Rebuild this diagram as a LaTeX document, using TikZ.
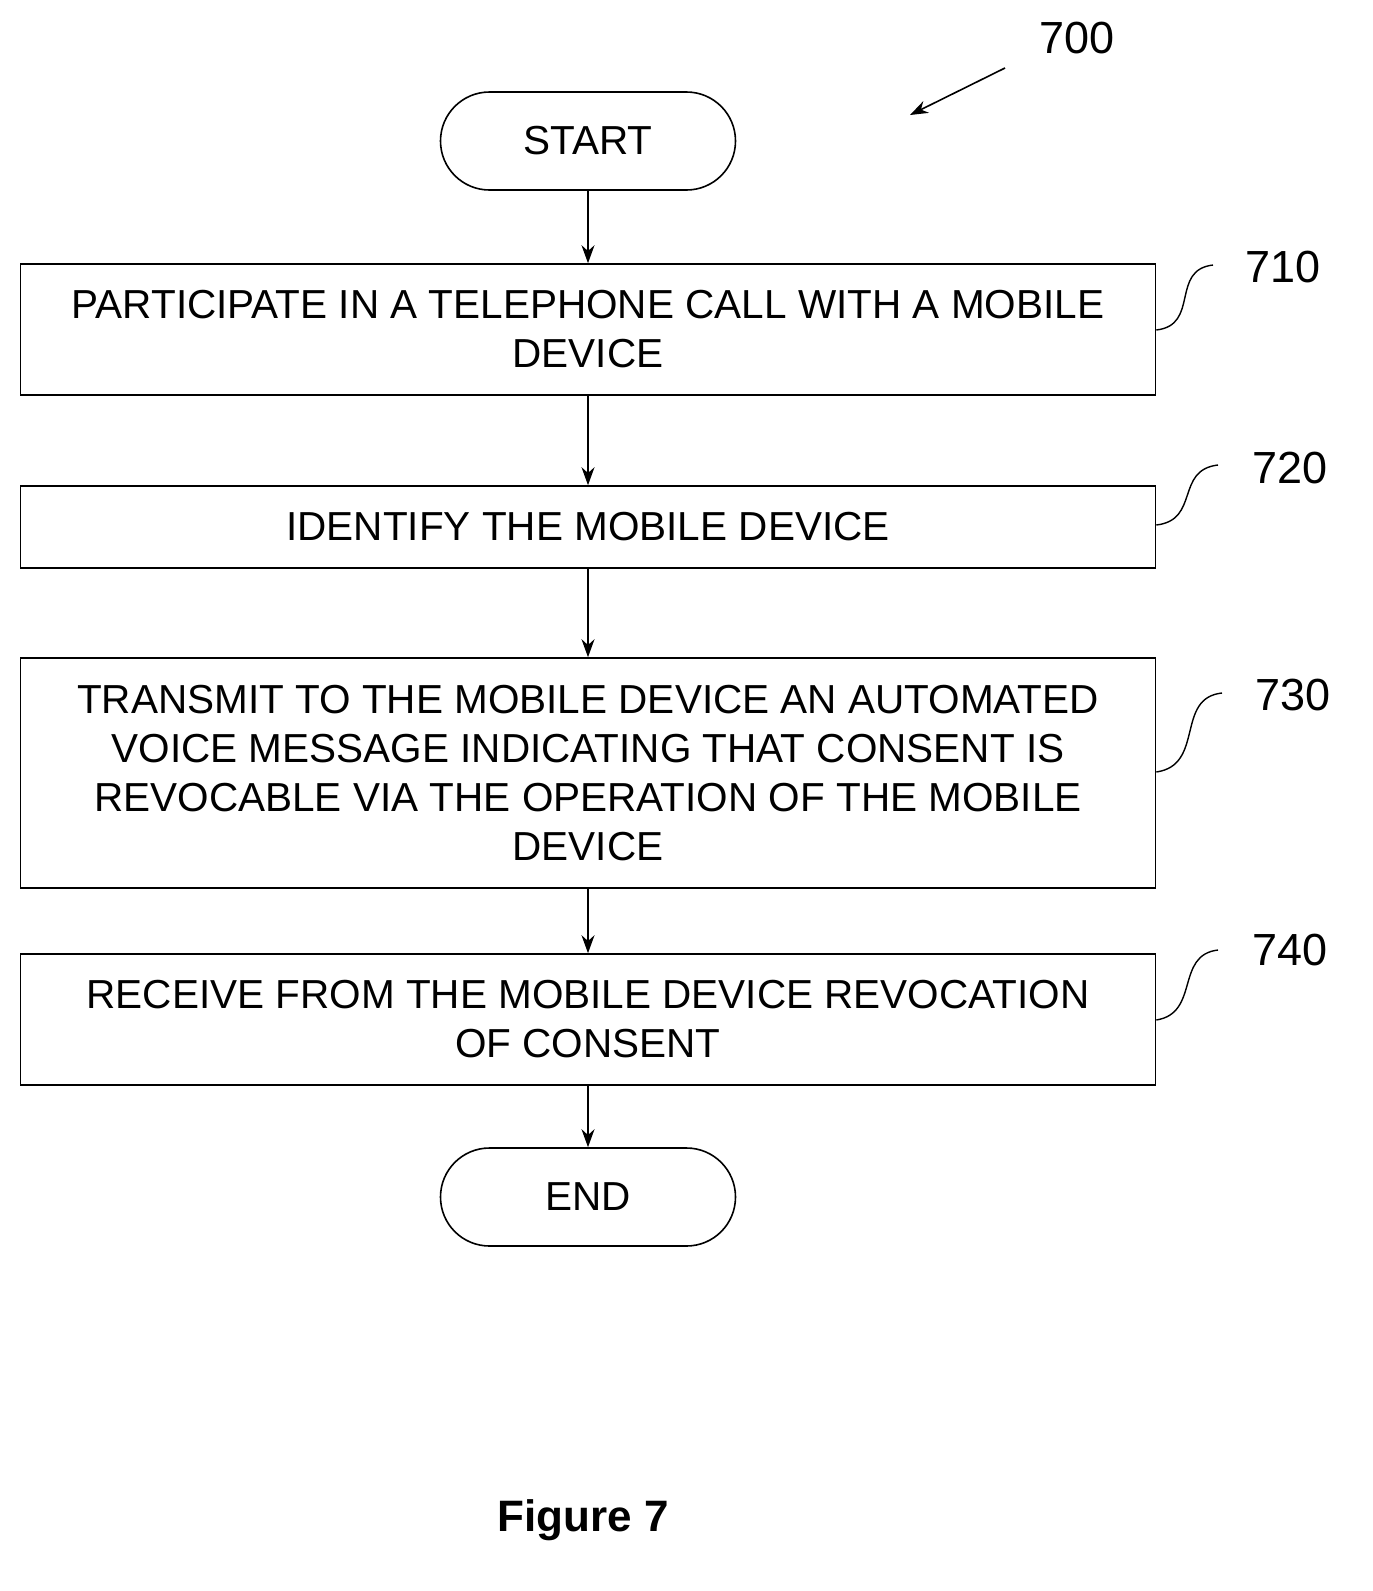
\documentclass[tikz,border=0pt]{standalone}
\usepackage{fontspec}
\setmainfont{Liberation Sans}
\usetikzlibrary{arrows.meta}
\begin{document}
\begin{tikzpicture}[x=1pt,y=-1pt,
  box/.style={draw,line width=1.6pt,minimum width=1135pt,align=center,font=\fontsize{40.5}{49}\selectfont,inner sep=0pt},
  term/.style={draw,line width=1.6pt,rounded corners=49pt,minimum width=295pt,minimum height=98pt,font=\fontsize{40.5}{49}\selectfont},
  arr/.style={-{Stealth[length=18pt,width=13pt]},line width=1.6pt},
  lbl/.style={font=\fontsize{45}{50}\selectfont},
  sq/.style={line width=1.4pt}]
\useasboundingbox (0,0) rectangle (1373,1591);
\node[term] (s) at (588,141) {START};
\node[box,minimum height=131pt] (b1) at (588,329.5) {PARTICIPATE IN A TELEPHONE CALL WITH A MOBILE\\DEVICE};
\node[box,minimum height=82pt] (b2) at (588,527) {IDENTIFY THE MOBILE DEVICE};
\node[box,minimum height=230pt] (b3) at (588,773) {TRANSMIT TO THE MOBILE DEVICE AN AUTOMATED\\VOICE MESSAGE INDICATING THAT CONSENT IS\\REVOCABLE VIA THE OPERATION OF THE MOBILE\\DEVICE};
\node[box,minimum height=131pt] (b4) at (588,1019.5) {RECEIVE FROM THE MOBILE DEVICE REVOCATION\\OF CONSENT};
\node[term] (e) at (588,1197) {END};
\draw[arr] (s) -- (b1);
\draw[arr] (b1) -- (b2);
\draw[arr] (b2) -- (b3);
\draw[arr] (b3) -- (b4);
\draw[arr] (b4) -- (e);
\node[lbl] (l0) at (1077,38) {700};
\coordinate (a0) at (1005,68);
\coordinate (a1) at (910,115);
\draw[arr] (a0) -- (a1);
\node[lbl] (l1) at (1283,267) {710};
\node[lbl] (l2) at (1290,468) {720};
\node[lbl] (l3) at (1293,695) {730};
\node[lbl] (l4) at (1290,950) {740};
\draw[sq] (b1.east |- 0,330) .. controls (1200,325) and (1170,270) .. (1213,265);
\draw[sq] (b2.east |- 0,525) .. controls (1200,520) and (1175,470) .. (1218,465);
\draw[sq] (b3.east |- 0,772) .. controls (1205,765) and (1175,698) .. (1222,693);
\draw[sq] (b4.east |- 0,1020) .. controls (1200,1013) and (1175,955) .. (1218,950);
\node[font=\bfseries\fontsize{44}{50}\selectfont] (fig) at (583,1520) {Figure 7};
\end{tikzpicture}
\end{document}
